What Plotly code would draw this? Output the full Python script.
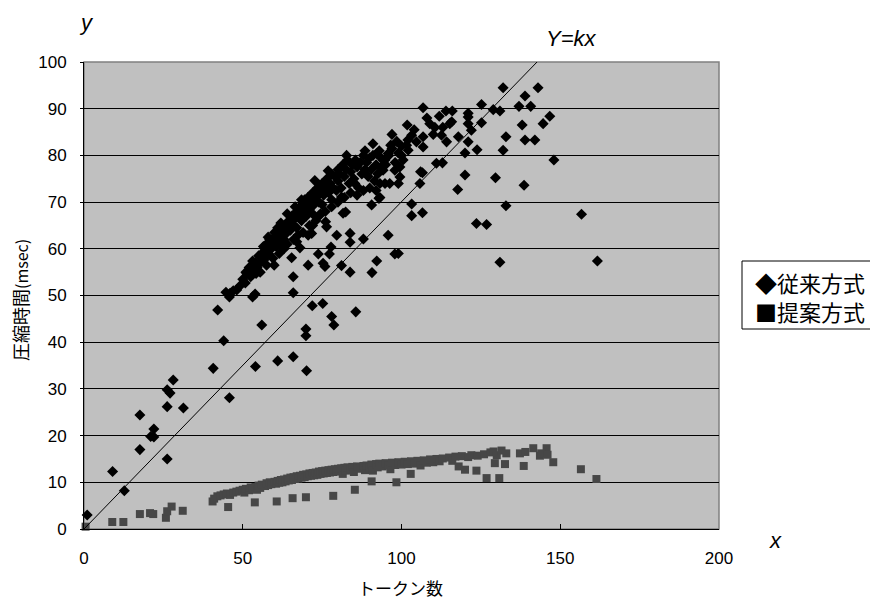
import plotly.graph_objects as go

# 従来方式 (diamonds)
conv_x = [1, 9, 12.7, 17.6, 17.6, 22, 21, 22, 26.2, 27.1, 28.1, 26.2, 31.3, 26.2, 40.7, 45.8, 54, 61, 65.9, 70.1,
          42.1, 44, 44.7, 45.8, 48.1, 50.8, 51.3, 53.1, 53.9, 56, 54.2, 53.1, 56.3, 59.9,
          69.9, 69.9, 78, 78.7, 85.6, 71.9, 75.2,
          65.9, 65.9, 70.6, 73.8, 75.9, 75.3, 77.8, 77.3, 81.1, 83.8, 90.7, 92.2, 79.6, 83.8, 83.8, 88, 95.8, 97.9, 99,
          68, 65.4, 70.6, 71.7, 76.4, 76.1, 82.4, 81.6, 81.1, 90.6, 92.9,
          132, 143, 138.9, 137, 140.7, 106.8, 114, 116, 111.9, 121, 121, 125.2, 128.9, 131, 146.7, 144.6, 101.8,
          108.9, 110.5, 115.2, 115.8, 112.6, 114.2, 117.9, 121, 122, 121, 125.2, 138, 132.9, 138.9, 142, 123.8, 120,
          132, 148, 111, 112.9, 106, 106.6, 105.8, 120, 117.7, 129.6, 138.6, 103.2, 103.2, 106.6, 132.9, 123.6, 126.8,
          156.7, 131, 161.7, 96.6,
          102, 103.2, 101.6, 104.7, 106.8, 106.8, 100.5, 102.1, 99.5, 97.9, 94.8, 93.2, 94.2, 96.3, 94.8, 99.5, 99, 93.2,
          92.2, 94.2, 95.8, 72.7, 76.9, 82.7,
          46, 47, 49, 50, 51, 52, 52.5, 53, 54, 54.5, 55, 55.5, 56, 56.5, 57, 57, 57.5, 58, 58.5, 59, 59.5, 60, 60.5,
          61, 61, 61.5, 62, 62.5, 63, 63, 63.5, 64, 64.5, 65, 65, 65.5, 66, 66.5, 67, 67, 67.5, 68, 68.5, 69, 69.5,
          70, 70, 70.5, 71, 71.5, 72, 72, 72.5, 73, 73.5, 74, 74.5, 75, 75, 75.5, 76, 76.5, 77, 77.5, 78, 78, 78.5,
          79, 79.5, 80, 80, 80.5, 81, 81.5, 82, 82.5, 83, 83.5, 84, 84.5, 85, 85.5, 86, 86.5, 87, 87.5, 88, 88.5,
          89, 89.5, 90, 90.5, 91, 91.5, 92, 92.5, 93, 93.5, 95, 96, 97, 98, 99, 100, 98.5, 100,
          55.5, 57.5, 59.5, 61.5, 62.5, 64, 66, 67.5, 69, 71, 73, 74.5, 76, 78, 80, 82, 84, 86, 88, 90, 92, 85.3, 93.2,
          58, 60, 62, 64, 66.5, 68.5, 63, 67, 72, 74, 56.5, 59, 61, 88.5, 91, 97, 104, 108, 110, 113]
conv_y = [3, 12.3, 8.2, 24.4, 17, 21.4, 19.8, 19.7, 29.8, 29.1, 31.9, 26.2, 25.9, 15, 34.4, 28.1, 34.8, 36, 36.9, 33.9,
          46.9, 40.3, 50.7, 49.7, 51.2, 52.7, 54.7, 49.7, 50.3, 43.7, 54.7, 57.4, 58.3, 56.5,
          42.8, 41.4, 45.5, 43.7, 46.5, 47.8, 48.3,
          54, 50.6, 56.5, 58.9, 56.2, 56.9, 60.4, 58.9, 56.4, 55, 54.9, 57.4, 62.9, 63.3, 61.4, 62.1, 62.9, 58.9, 59,
          60.2, 58.1, 62.9, 63.3, 64.7, 65.8, 67.9, 67.6, 71.1, 69.4, 70.8,
          94.5, 94.5, 92.7, 90.5, 90.5, 90.2, 89.5, 89.5, 88.4, 89, 88.2, 90.9, 89.8, 89.5, 88.4, 86.8, 86.5,
          86.8, 86, 86.8, 87.2, 84.3, 82.9, 84, 86.8, 85.4, 82.9, 87, 86.5, 84, 83.3, 83.3, 81.2, 80.5,
          81.1, 79, 78.3, 78.4, 76.5, 76.3, 74, 75.8, 72.7, 75.2, 73.6, 69.6, 67.1, 67.7, 69.2, 65.4, 65.2,
          67.4, 57.1, 57.4, 82.2,
          83.3, 84.3, 82.2, 82.9, 81.8, 84, 79, 81.1, 77.5, 76.8, 79, 79.7, 76.8, 74, 74, 75.4, 74, 71,
          80.4, 79, 80.4, 74.6, 76.7, 80,
          50.5, 51, 52, 53.5, 55, 56, 54, 55.5, 57, 56, 58.5, 57, 59, 57.5, 60, 58, 61, 59, 62, 60, 61.5, 62.5, 60.5,
          63, 61.5, 64, 62.5, 63.5, 64.5, 62, 65, 63.5, 66, 64, 65.5, 67, 65, 66.5, 68, 64.5, 67, 69, 66, 68, 70.5,
          67, 69.5, 71, 68.5, 70, 72, 67.5, 69.5, 71, 73, 70, 72, 74, 69.5, 71.5, 73, 75, 72, 74, 76, 70.5, 73,
          75.5, 72.5, 77, 74.5, 76, 73, 78, 75.5, 77, 79, 74, 76.5, 78, 75, 79, 77.5, 73, 78.5, 76, 80, 77,
          78.5, 75.5, 79.5, 77, 80, 74.5, 78, 76, 81, 77.5, 78, 80, 81.5, 78.5, 80.5, 82, 83, 80,
          55, 56.5, 58, 59, 60.5, 61, 62, 63, 63.5, 65, 66, 67.5, 68, 69, 70, 71, 72, 71.5, 72.5, 73, 72.5, 74, 74,
          62.5, 63.5, 65.5, 67.5, 69, 70.5, 60, 61.5, 65, 67, 60.5, 61.5, 64.5, 81, 82.5, 84.5, 85.5, 88, 84.5, 86]

# 提案方式 (squares)
prop_x = [0.5, 8.9, 12.4, 17.6, 20.8, 21.8, 25.8, 26.2, 27.6, 31.1, 40.5, 45.4, 53.8, 60.7, 65.7, 69.9, 78.5, 85.3,
          90.6, 98.4, 102.9, 126.8, 130.8, 138.5, 147.8, 156.5, 161.4,
          41, 42, 43, 44, 45, 46, 47, 48, 49, 50, 50.5, 51, 52, 52.5, 53, 54, 54.5, 55, 55.5, 56, 57, 57.5, 58, 58.5,
          59, 60, 60.5, 61, 61.5, 62, 62.5, 63, 63.5, 64, 64.5, 65, 65.5, 66, 66.5, 67, 67.5, 68, 68.5, 69, 69.5,
          70, 70.5, 71, 71.5, 72, 72.5, 73, 73.5, 74, 74.5, 75, 75.5, 76, 76.5, 77, 77.5, 78, 78.5, 79, 79.5, 80,
          80.5, 81, 81.5, 82, 82.5, 83, 84, 84.5, 85, 86, 87, 88, 88.5, 89, 90, 90.5, 91, 92, 92.5, 93, 94, 95, 96,
          96.5, 97, 98, 99, 100, 101, 102, 103, 104, 105, 106, 107, 108, 109, 110, 111, 112, 113, 115, 116, 117,
          118, 119, 120, 121, 122, 123.6, 124, 126, 128, 129, 129.4, 130, 131.5, 132.6, 133, 137.3, 139, 141.5,
          143.6, 145.7, 144, 146]
prop_y = [0.5, 1.5, 1.5, 3.2, 3.4, 3.2, 2.4, 3.8, 4.8, 3.9, 5.9, 4.7, 5.7, 5.9, 6.6, 6.8, 7.1, 8.4,
          10.2, 10, 11.8, 10.9, 10.9, 13.5, 14.3, 12.8, 10.7,
          6.5, 7, 7.2, 7.4, 7.6, 7.3, 7.8, 8, 8.2, 8.4, 7.8, 8.6, 8.3, 8.9, 8.7, 9, 8.4, 9.3, 8.8, 9.5, 9.2, 9.8, 9.4, 10,
          9.6, 10.1, 9.7, 10.3, 9.9, 10.5, 10, 10.6, 10.2, 10.8, 10.4, 11, 10.5, 11.1, 10.7, 11.3, 10.8, 11.4, 11, 11.6, 11.1,
          11.7, 11.3, 11.9, 11.4, 12, 11.5, 12.1, 11.6, 12.3, 11.8, 12.4, 11.9, 12.5, 12, 12.6, 12.1, 12.7, 12.2, 12.8, 12.3, 12.9,
          12.4, 13, 11.8, 13.1, 12.5, 13.2, 12.7, 13.3, 12.2, 13.4, 12.9, 13.5, 12.6, 13.6, 13.1, 13.8, 12.5, 13.9, 13.2, 14, 13.4, 14.1, 13.6,
          12.8, 14.2, 13.7, 14.3, 13.8, 14.4, 13.9, 14.5, 14, 14.6, 13.6, 14.7, 14.2, 14.9, 14.3, 15, 14.5, 15.1, 15.3, 14.6, 15.5,
          13.4, 15.6, 12.7, 15.4, 15.8, 12.5, 15.7, 16, 16.4, 16.6, 14.1, 15.8, 16.8, 13.9, 16.2, 16.2, 16.5, 17.3,
          15.7, 17.3, 16.2, 15.9]

# reference line Y = kx
line_x = [0, 143.4]
line_y = [0, 100.5]

x_ticks = [0, 50, 100, 150, 200]
y_ticks = [0, 10, 20, 30, 40, 50, 60, 70, 80, 90, 100]

FONT = "Liberation Sans, Arial, Noto Sans CJK JP"
CJK = "Noto Sans CJK JP, Liberation Sans"

fig = go.Figure()
fig.add_trace(go.Scatter(x=prop_x, y=prop_y, mode="markers", name="提案方式",
                         marker=dict(symbol="square", size=8, color="#474747", line=dict(width=0)),
                         cliponaxis=False))
fig.add_trace(go.Scatter(x=conv_x, y=conv_y, mode="markers", name="従来方式",
                         marker=dict(symbol="diamond", size=8.5, color="#000000", line=dict(width=0)),
                         cliponaxis=False))
fig.add_trace(go.Scatter(x=line_x, y=line_y, mode="lines", line=dict(color="#000000", width=1),
                         showlegend=False))

# page has an 8px body margin; figure occupies window pixels 8..878 x 8..599
OFF = 8
W, H = 878 - OFF, 599 - OFF
L, R, T, B = 84 - OFF, 159, 62 - OFF, 70
pw, ph = W - L - R, H - T - B


def px(x):
    return (x - OFF - L) / pw


def py(y):
    return (H - B - (y - OFF)) / ph


fig.update_layout(
    width=W, height=H,
    margin=dict(l=L, r=R, t=T, b=B, pad=0, autoexpand=False),
    paper_bgcolor="white",
    plot_bgcolor="#c0c0c0",
    showlegend=False,
    font=dict(family=FONT, size=17, color="black"),
    xaxis=dict(range=[0, 200], tickvals=x_ticks, ticktext=[str(v) for v in x_ticks],
               showgrid=False, zeroline=False, showline=True, linecolor="#000000", linewidth=1,
               ticks="inside", ticklen=5, tickcolor="#000000", ticklabelstandoff=14,
               tickfont=dict(size=17, family=FONT)),
    yaxis=dict(range=[0, 100], tickvals=y_ticks, ticktext=[str(v) for v in y_ticks],
               showgrid=True, gridcolor="#000000", gridwidth=1, zeroline=False,
               showline=True, linecolor="#000000", linewidth=1,
               ticks="outside", ticklen=3, tickcolor="#000000", ticklabelstandoff=10,
               tickfont=dict(size=17, family=FONT)),
    shapes=[
        dict(type="rect", xref="paper", yref="paper", x0=0, x1=1, y0=0, y1=1,
             line=dict(color="#808080", width=1.5), layer="below"),
        dict(type="rect", xref="paper", yref="paper", x0=px(742), x1=px(890), y0=py(329), y1=py(261),
             line=dict(color="#000000", width=1), fillcolor="white", layer="above"),
    ],
    annotations=[
        dict(text="<i>Y=kx</i>", xref="paper", yref="paper", x=px(571), y=py(38),
             xanchor="center", yanchor="middle", showarrow=False, font=dict(size=22, family=FONT)),
        dict(text="<i>y</i>", xref="paper", yref="paper", x=px(86), y=py(22),
             xanchor="center", yanchor="middle", showarrow=False, font=dict(size=22, family=FONT)),
        dict(text="<i>x</i>", xref="paper", yref="paper", x=px(775), y=py(540),
             xanchor="center", yanchor="middle", showarrow=False, font=dict(size=22, family=FONT)),
        dict(text="トークン数", xref="paper", yref="paper", x=px(400), y=py(587),
             xanchor="center", yanchor="middle", showarrow=False, font=dict(size=17, family=CJK)),
        dict(text="圧縮時間<span style='font-size:16px'>(msec)</span>", xref="paper", yref="paper",
             x=px(20), y=py(300), textangle=-90,
             xanchor="center", yanchor="middle", showarrow=False, font=dict(size=18, family=CJK)),
        dict(text="◆従来方式<br>■提案方式", xref="paper", yref="paper", x=px(753), y=py(296),
             xanchor="left", yanchor="middle", align="left", showarrow=False,
             font=dict(size=22, family=CJK)),
    ],
)

fig.write_html("out.html")
